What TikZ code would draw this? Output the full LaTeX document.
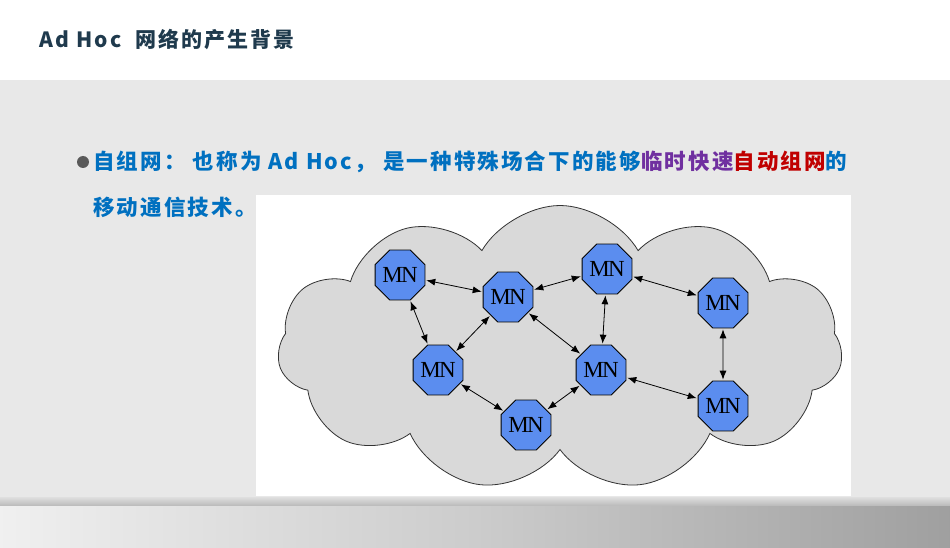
\documentclass[tikz,border=0pt]{standalone}
\usepackage{fontspec}
\setmainfont{Noto Sans CJK SC}[LetterSpace=10]
\usetikzlibrary{shapes.geometric,shapes.symbols,arrows.meta}
\definecolor{titlec}{HTML}{1F3A4D}
\definecolor{bluet}{HTML}{0070C0}
\definecolor{purp}{HTML}{7030A0}
\definecolor{redt}{HTML}{C00000}
\definecolor{mnblue}{HTML}{5B8DEF}
\tikzset{
 mn/.style={regular polygon,regular polygon sides=8,draw=black,fill=mnblue,minimum size=50pt,inner sep=0pt,font=\fontspec{Liberation Serif}\fontsize{23}{23}\selectfont\addfontfeature{LetterSpace=-8},line width=0.8pt},
 link/.style={{Latex[length=9pt,width=7pt]}-{Latex[length=9pt,width=7pt]},line width=0.8pt,shorten <=1pt,shorten >=1pt}
}
\begin{document}
\begin{tikzpicture}[x=1pt,y=-1pt]
\useasboundingbox (0,0) rectangle (950,548);
\fill[white] (0,0) rectangle (950,80);
\fill[gray!18] (0,80) rectangle (950,505);
\shade[top color=gray!25,bottom color=gray!55] (0,497) rectangle (950,506);
\shade[left color=gray!12,right color=gray!75,middle color=gray!40] (0,506) rectangle (950,548);
\node[anchor=west,text=titlec,font=\bfseries\fontsize{21}{21}\selectfont] (title) at (36,40) {Ad Hoc\ \ 网络的产生背景};
\fill[gray!70!black] (83,162) circle (6);
\node[anchor=west,text=bluet,font=\bfseries\fontsize{21.5}{21.5}\selectfont,inner sep=0pt] (l1) at (93,162) {自组网： 也称为 Ad Hoc， 是一种特殊场合下的能够\textcolor{purp}{临时快速}\textcolor{redt}{自动组网}的};
\node[anchor=west,text=bluet,font=\bfseries\fontsize{21.5}{21.5}\selectfont,inner sep=0pt] (l2) at (93,207) {移动通信技术。};
\fill[white] (256,195) rectangle (851,496);
\node[cloud,cloud puffs=11,cloud puff arc=120,aspect=2,draw=black!80,fill=gray!30,minimum width=565pt,minimum height=285pt,line width=0.8pt] (cl) at (560,348) {};
\node[mn] (n1) at (400,275) {MN};
\node[mn] (n2) at (508,297) {MN};
\node[mn] (n3) at (607,269) {MN};
\node[mn] (n4) at (723,303) {MN};
\node[mn] (n5) at (438,370) {MN};
\node[mn] (n6) at (601,370) {MN};
\node[mn] (n7) at (526,425) {MN};
\node[mn] (n8) at (723,406) {MN};
\foreach \a/\b in {n1/n2,n1/n5,n2/n3,n2/n5,n2/n6,n3/n6,n3/n4,n4/n8,n5/n7,n6/n7,n6/n8}
 \draw[link] (\a) -- (\b);
\end{tikzpicture}
\end{document}
